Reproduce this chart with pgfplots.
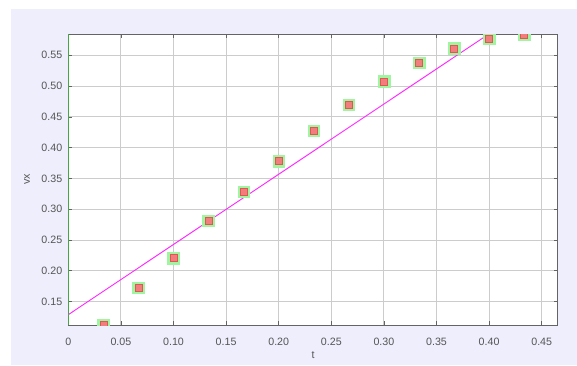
\documentclass[border=0pt]{standalone}
\usepackage{pgfplots}
\pgfplotsset{compat=1.18}
\usepackage{fontspec}
\setmainfont{Liberation Sans}
\definecolor{bglav}{RGB}{238,238,252}
\definecolor{gridc}{RGB}{204,204,204}
\definecolor{framec}{RGB}{100,100,100}
\definecolor{spine}{RGB}{51,204,51}
\definecolor{halo}{RGB}{160,245,160}
\definecolor{redm}{RGB}{242,125,125}
\definecolor{redd}{RGB}{225,85,85}
\definecolor{labc}{RGB}{85,85,85}
\definecolor{linec}{RGB}{255,40,255}
\begin{document}
\begin{tikzpicture}[x=0.75pt,y=0.75pt]
\fill[white] (0,0) rectangle (577,365);
\fill[bglav] (11,0) rectangle (577,356);
\begin{axis}[
  at={(68.3*0.75pt,40*0.75pt)}, anchor=south west,
  scale only axis, width=367.05pt, height=218.25pt,
  xmin=0, xmax=0.4652, ymin=0.1121, ymax=0.5846,
  axis background/.style={fill=white},
  xtick={0,0.05,0.10,0.15,0.20,0.25,0.30,0.35,0.40,0.45},
  xticklabels={0,0.05,0.10,0.15,0.20,0.25,0.30,0.35,0.40,0.45},
  ytick={0.15,0.20,0.25,0.30,0.35,0.40,0.45,0.50,0.55},
  yticklabels={0.15,0.20,0.25,0.30,0.35,0.40,0.45,0.50,0.55},
  tick align=inside, major tick length=3pt,
  tick style={framec, line width=0.6pt},
  grid=major, major grid style={gridc, line width=0.75pt},
  axis line style={framec, line width=0.75pt},
  every tick label/.style={font=\fontsize{8}{9}\selectfont, text=labc},
  xticklabel style={yshift=-6pt},
  yticklabel style={xshift=-1pt},
  xlabel={t}, ylabel={vx},
  label style={font=\fontsize{8}{9}\selectfont, text=labc},
  xlabel style={at={(axis description cs:0.5,0)}, anchor=center, yshift=-22.5pt},
  ylabel style={at={(axis description cs:0,0.5)}, anchor=center, yshift=31pt},
  clip=true, clip marker paths=true,
]
\addplot[linec, line width=0.7pt] coordinates {(0,0.1289) (0.4652,0.6592)};
\addplot[only marks, color=halo, mark=square*, mark size=4.4pt, mark options={fill=halo, draw=halo}]
 coordinates {(0.0333,0.1122) (0.0667,0.1726) (0.1,0.221) (0.1333,0.2812) (0.1667,0.3284) (0.2,0.3783) (0.2333,0.4276) (0.2667,0.4699) (0.3,0.5073) (0.3333,0.538) (0.3667,0.5609) (0.4,0.5771) (0.4333,0.5834)};
\addplot[only marks, color=redd, mark=square*, mark size=2.6pt, mark options={fill=redm, draw=redd, line width=0.3pt}]
 coordinates {(0.0333,0.1122) (0.0667,0.1726) (0.1,0.221) (0.1333,0.2812) (0.1667,0.3284) (0.2,0.3783) (0.2333,0.4276) (0.2667,0.4699) (0.3,0.5073) (0.3333,0.538) (0.3667,0.5609) (0.4,0.5771) (0.4333,0.5834)};
\draw[spine, line width=0.9pt] (axis description cs:0,0) -- (axis description cs:0,1);
\end{axis}
\end{tikzpicture}
\end{document}
